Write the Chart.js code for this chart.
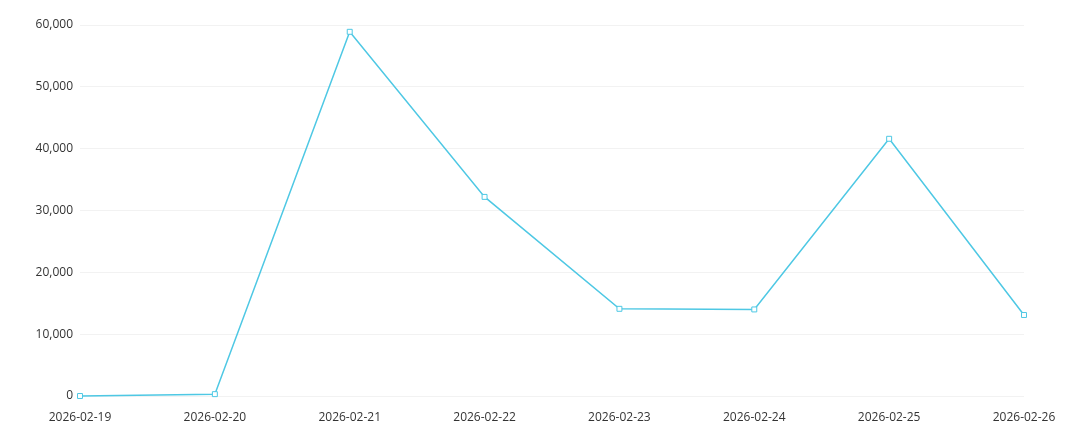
<!DOCTYPE html>
<html>
<head>
<meta charset="utf-8">
<script src="https://cdn.jsdelivr.net/npm/chart.js@4"></script>
<style>
  html, body { margin: 0; padding: 0; background: #fff; }
  #wrap { width: 1080px; height: 435px; }
</style>
</head>
<body>
<div id="wrap"><canvas id="lineChart" width="1080" height="435"></canvas></div>
<script>
// datos del gráfico
var dates = ['2026-02-19', '2026-02-20', '2026-02-21', '2026-02-22', '2026-02-23', '2026-02-24', '2026-02-25', '2026-02-26'];
var values = [0, 300, 58900, 32200, 14100, 14000, 41600, 13100];
var yTicks = [0, 10000, 20000, 30000, 40000, 50000, 60000];

var ctx = document.getElementById('lineChart').getContext('2d');
var chart = new Chart(ctx, {
    type: 'line',
    data: {
        labels: dates,
        datasets: [{
            data: values,
            borderColor: '#4ec8e4',
            borderWidth: 1.5,
            backgroundColor: '#ffffff',
            pointStyle: 'rect',
            pointRadius: 3.5,
            pointBorderWidth: 1,
            pointBorderColor: '#4ec8e4',
            pointBackgroundColor: '#ffffff',
            tension: 0,
            fill: false,
            clip: false
        }]
    },
    options: {
        responsive: false,
        animation: false,
        layout: { padding: { left: 0, right: 56, top: 25, bottom: 0 } },
        plugins: {
            legend: { display: false },
            tooltip: { enabled: false }
        },
        scales: {
            x: {
                offset: false,
                grid: { display: false, drawTicks: false },
                border: { display: false },
                ticks: {
                    color: '#333',
                    font: { family: 'Open Sans', size: 12 },
                    padding: 14,
                    maxRotation: 0,
                    autoSkip: false
                },
                afterFit: function(scale) { scale.height = 39; }
            },
            y: {
                min: yTicks[0],
                max: yTicks[yTicks.length - 1],
                grid: { color: '#f2f2f2', drawTicks: false },
                border: { display: false },
                ticks: {
                    stepSize: 10000,
                    color: '#333',
                    font: { family: 'Open Sans', size: 12 },
                    padding: 7,
                    callback: function(v) { return v.toLocaleString('en-US'); }
                },
                afterFit: function(scale) { scale.width = 80; }
            }
        }
    }
});
</script>
</body>
</html>
